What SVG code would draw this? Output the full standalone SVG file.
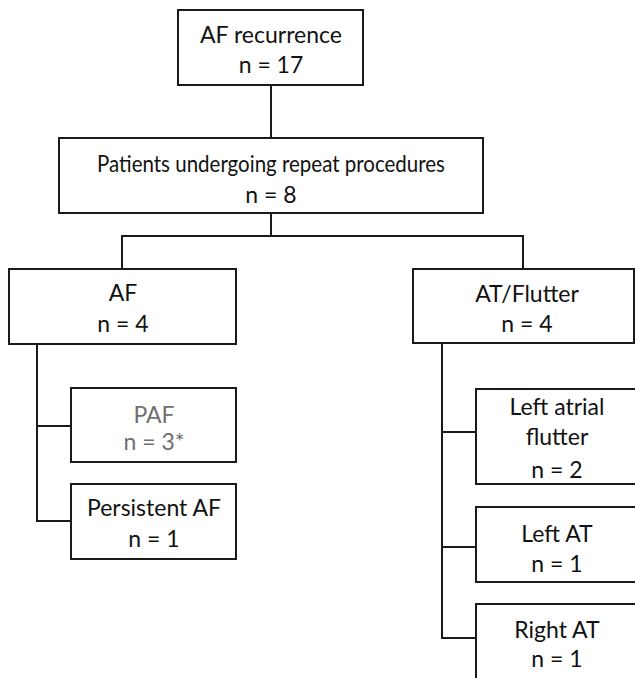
<svg xmlns="http://www.w3.org/2000/svg" width="635" height="678" viewBox="0 0 635 678">
<style>
.box{fill:#fff;stroke:#1a1a1a;stroke-width:2}
.ln{fill:none;stroke:#1a1a1a;stroke-width:2}
text{font-family:Lato,"Liberation Sans",sans-serif;font-size:23px;fill:#111;text-anchor:middle}
.gray{fill:#707070}
</style>
<rect width="635" height="678" fill="#fff"/>
<g id="connectors">
<path class="ln" d="M271,85V138"/>
<path class="ln" d="M271,213V236M122,269V236H523V269"/>
<path class="ln" d="M37,344V521H71M37,426H71"/>
<path class="ln" d="M442,343V638H476M442,432H476M442,547H476"/>
</g>
<g id="n-af-recurrence">
<rect class="box" x="178" y="10" width="185" height="75"/>
<text x="271" y="43">AF recurrence</text>
<text x="271" y="73">n = 17</text>
</g>
<g id="n-repeat">
<rect class="box" x="59" y="138" width="424" height="75"/>
<text x="271" y="172" textLength="348" lengthAdjust="spacingAndGlyphs">Patients undergoing repeat procedures</text>
<text x="271" y="203">n = 8</text>
</g>
<g id="n-af">
<rect class="box" x="9" y="269" width="227" height="75"/>
<text x="123" y="301">AF</text>
<text x="123" y="332">n = 4</text>
</g>
<g id="n-paf">
<rect class="box" x="71" y="388" width="165" height="74"/>
<text class="gray" x="154" y="423">PAF</text>
<text class="gray" x="154" y="450">n = 3*</text>
</g>
<g id="n-persistent">
<rect class="box" x="71" y="484" width="165" height="75"/>
<text x="154" y="516">Persistent AF</text>
<text x="154" y="547">n = 1</text>
</g>
<g id="n-at-flutter">
<rect class="box" x="413" y="269" width="221" height="74"/>
<text x="527" y="302">AT/Flutter</text>
<text x="527" y="332">n = 4</text>
</g>
<g id="n-left-atrial-flutter">
<rect class="box" x="476" y="389" width="180" height="95"/>
<text x="557" y="415">Left atrial</text>
<text x="557" y="445">flutter</text>
<text x="557" y="478">n = 2</text>
</g>
<g id="n-left-at">
<rect class="box" x="476" y="507" width="180" height="75"/>
<text x="557" y="542">Left AT</text>
<text x="557" y="572">n = 1</text>
</g>
<g id="n-right-at">
<rect class="box" x="476" y="604" width="180" height="90"/>
<text x="557" y="638">Right AT</text>
<text x="557" y="667">n = 1</text>
</g>
</svg>
